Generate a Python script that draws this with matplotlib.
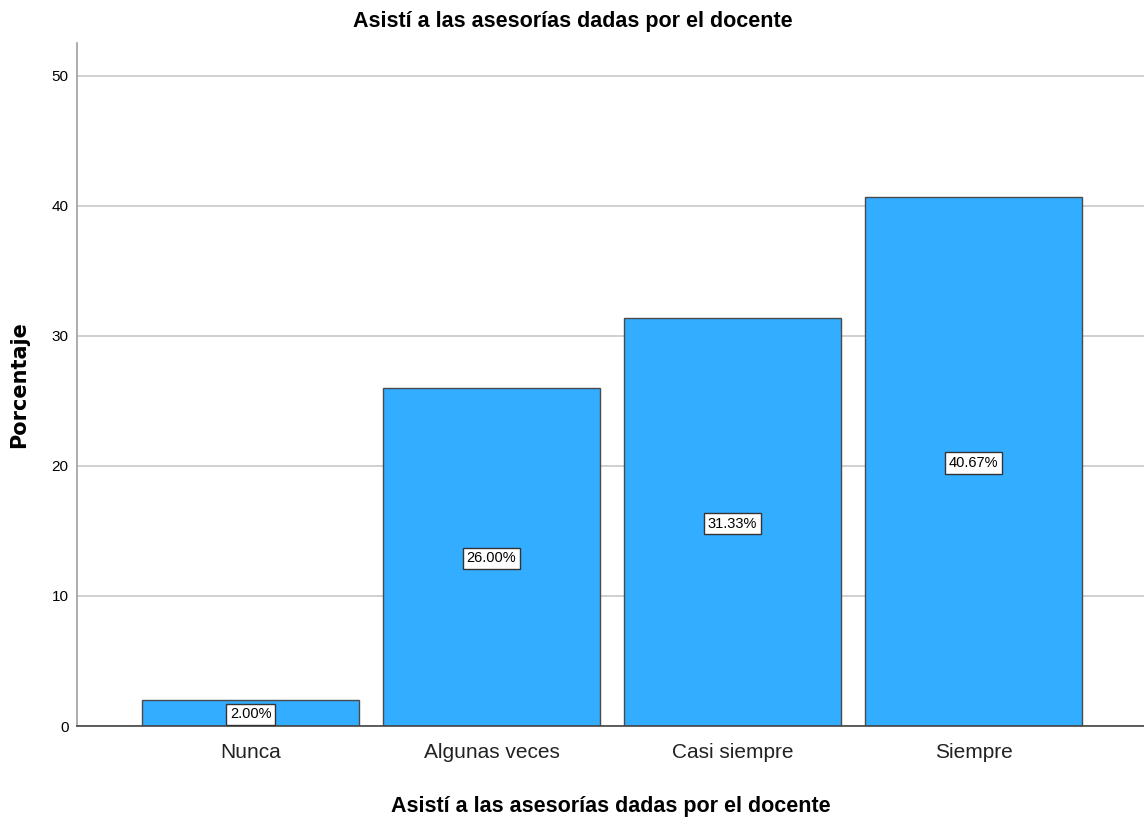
import matplotlib.pyplot as plt

categorias = ["Nunca", "Algunas veces", "Casi siempre", "Siempre"]
porcentajes = [2.00, 26.00, 31.33, 40.67]
etiquetas = ["2.00%", "26.00%", "31.33%", "40.67%"]
yticks = [0, 10, 20, 30, 40, 50]
titulo = "Asistí a las asesorías dadas por el docente"

fuente = "Liberation Sans"

fig = plt.figure(figsize=(11.44, 8.23), dpi=100)
ax = fig.add_axes([77 / 1144, 1 - 726 / 823, 1 - 77 / 1144, (726 - 43) / 823])

x = list(range(len(categorias)))
ax.bar(x, porcentajes, width=0.9, color="#33adff", edgecolor="#4a4a4a",
       linewidth=1.0, zorder=3)

for xi, v, lab in zip(x, porcentajes, etiquetas):
    ax.text(xi, v / 2, lab, ha="center", va="center_baseline", fontsize=10.5,
            family=fuente, zorder=5,
            bbox=dict(boxstyle="square,pad=0.25", fc="white", ec="#333333", lw=1.0))

ax.set_xlim(-0.72, 3.707)
ax.set_ylim(0, 52.5)
ax.set_yticks(yticks)
ax.set_yticklabels([str(t) for t in yticks], family=fuente, fontsize=11)
ax.set_xticks(x)
ax.set_xticklabels(categorias, family=fuente, fontsize=15, color="#222222")
ax.tick_params(axis="x", length=0, pad=12)
ax.tick_params(axis="y", length=0, pad=6)

ax.yaxis.grid(True, color="#c8c8c8", linewidth=1.2, zorder=0)
for s in ["top", "right"]:
    ax.spines[s].set_visible(False)
ax.spines["left"].set_color("#a0a0a0")
ax.spines["left"].set_linewidth(1.2)
ax.spines["bottom"].set_color("#444444")
ax.spines["bottom"].set_linewidth(1.2)
ax.spines["bottom"].set_zorder(4)

ax.set_xlabel(titulo, family=fuente, fontsize=15.5, fontweight="bold", labelpad=25)
ax.set_ylabel("Porcentaje", family="DejaVu Sans", fontsize=15,
              fontweight="bold", labelpad=16)
fig.text(573 / 1144, 1 - 22 / 823, titulo, ha="center", va="center",
         family=fuente, fontsize=15.5, fontweight="bold")

fig.savefig("out.png", dpi=100)
